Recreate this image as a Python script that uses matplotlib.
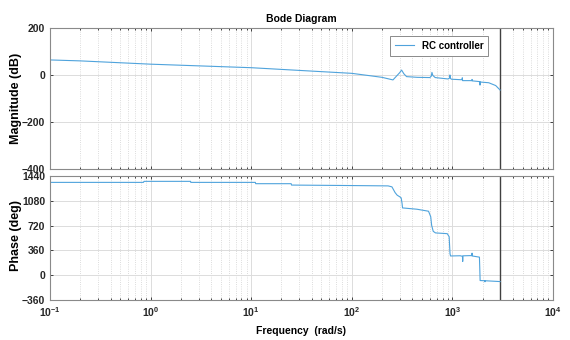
import numpy as np
import matplotlib
matplotlib.use('Agg')
import matplotlib.pyplot as plt
from matplotlib.ticker import FuncFormatter, LogLocator, NullFormatter

plt.rcParams['font.family'] = ['Liberation Sans', 'DejaVu Sans']
plt.rcParams['font.weight'] = 'bold'
plt.rcParams['mathtext.fontset'] = 'custom'
plt.rcParams['mathtext.bf'] = 'Liberation Sans:bold'
plt.rcParams['mathtext.rm'] = 'Liberation Sans:bold'

# magnitude (rad/s, dB)
mag_w = [0.1, 0.2, 1, 10, 19.5, 100, 151, 200, 257, 300, 313, 330, 351, 450,
         598, 618, 627, 640, 676, 910, 940, 946, 955, 980, 1200, 1250, 1257,
         1265, 1500, 1565, 1571, 1578, 1850, 1880, 1885, 1892, 2300, 2700, 2985]
mag_db = [64, 60, 46, 31, 24, 7, -3, -10, -21, 10, 21, 5, -7, -10,
          -11, -5, 11, -2, -11, -17, -12, 0, -14, -18, -20, -20, -12,
          -24, -24, -24, -19, -25, -28, -28, -43, -30, -33, -45, -64]

# phase (rad/s, deg)
ph_w = [0.1, 0.85, 0.86, 2.5, 2.51, 11, 11.1, 25, 25.2, 100, 230, 251, 270,
        283, 300, 310, 316, 320, 445, 580, 610, 623, 646, 680, 890, 930, 949,
        960, 1200, 1262, 1268, 1275, 1500, 1565, 1571, 1578, 1860, 1875, 1890,
        2100, 2110, 2120, 2985]
ph_deg = [1349, 1349, 1364, 1364, 1349, 1349, 1330, 1330, 1310, 1303, 1298, 1284, 1200,
          1163, 1140, 1124, 1050, 978, 959, 930, 850, 725, 638, 615, 604, 560, 312,
          280, 283, 275, 200, 282, 285, 285, 321, 280, 263, 100, -77,
          -80, -95, -80, -92]

w_nyq = 2985
line_col = '#4fa3dc'

fig = plt.figure(figsize=(5.7, 3.4), dpi=100)
ax1 = fig.add_axes([0.0877, 0.503, 0.8823, 0.4147])
ax2 = fig.add_axes([0.0877, 0.1176, 0.8823, 0.3644])

for ax in (ax1, ax2):
    ax.set_xscale('log')
    ax.set_xlim(0.1, 1e4)
    ax.xaxis.set_major_locator(LogLocator(base=10, numticks=10))
    ax.xaxis.set_minor_locator(LogLocator(base=10, subs=np.arange(2, 10), numticks=20))
    ax.xaxis.set_minor_formatter(NullFormatter())
    ax.grid(True, which='major', color='#dcdcdc', lw=0.7)
    ax.grid(True, which='minor', axis='x', color='#d0d0d0', lw=0.6, ls=':')
    ax.tick_params(which='both', direction='in', top=True, right=True,
                   colors='#262626', labelsize=7.5, length=2.5, width=0.6)
    ax.tick_params(which='minor', length=1.5)
    for s in ax.spines.values():
        s.set_color('#8a8a8a')
        s.set_linewidth(0.8)
    ax.axvline(w_nyq, color='#404040', lw=1.0)

ax1.plot(mag_w, mag_db, color=line_col, lw=0.8, label='RC controller')
ax1.set_ylim(-400, 200)
ax1.set_yticks([-400, -200, 0, 200])
ax1.xaxis.set_major_formatter(NullFormatter())
ax1.set_ylabel('Magnitude (dB)', fontsize=9, fontweight='bold')
ax1.yaxis.set_label_coords(-0.055, 0.5)
ax1.set_title('Bode Diagram', fontsize=7.5, fontweight='bold', pad=4)
leg = ax1.legend(loc='upper right', bbox_to_anchor=(0.871, 0.943), borderaxespad=0,
                 fontsize=7, fancybox=False, edgecolor='#8a8a8a', framealpha=1,
                 handlelength=1.9, borderpad=0.5)
leg.get_frame().set_linewidth(0.7)

ax2.plot(ph_w, ph_deg, color=line_col, lw=0.8)
ax2.set_ylim(-360, 1440)
ax2.set_yticks([-360, 0, 360, 720, 1080, 1440])
ax2.xaxis.set_major_formatter(FuncFormatter(lambda x, pos: r'$\mathbf{10^{%d}}$' % round(np.log10(x))))
ax2.set_ylabel('Phase (deg)', fontsize=9, fontweight='bold')
ax2.yaxis.set_label_coords(-0.055, 0.52)
ax2.set_xlabel('Frequency  (rad/s)', fontsize=7.5, fontweight='bold', labelpad=5)

fig.savefig('out.png', dpi=100)
